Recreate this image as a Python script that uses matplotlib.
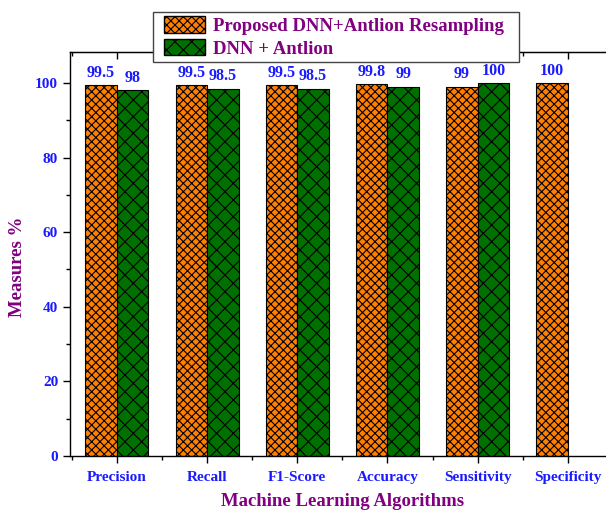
import numpy as np
import matplotlib
matplotlib.use('Agg')
from matplotlib import pyplot as plt
from matplotlib.ticker import MultipleLocator
from matplotlib.patches import Patch, Rectangle
from matplotlib.legend_handler import HandlerPatch

plt.rcParams['font.family'] = 'Liberation Serif'
plt.rcParams['font.weight'] = 'bold'
plt.rcParams['hatch.linewidth'] = 0.8

categories = ['Precision', 'Recall', 'F1-Score', 'Accuracy', 'Sensitivity', 'Specificity']
proposed = [99.5, 99.5, 99.5, 99.8, 99, 100]
dnn_antlion = [98, 98.5, 98.5, 99, 100, None]
proposed_labels = ['99.5', '99.5', '99.5', '99.8', '99', '100']
dnn_labels = ['98', '98.5', '98.5', '99', '100', '']

blue = '#1a1aff'
purple = '#800080'
orange = '#ff8000'
green = '#007000'

fig = plt.figure(figsize=(6.06, 5.15), dpi=100)
ax = fig.add_axes([0.1155, 0.1146, 0.899, 0.7845])

x = np.arange(1, len(categories) + 1)
w = 0.35

for i in range(len(categories)):
    ax.bar(x[i] - w / 2, proposed[i], w, color=orange, edgecolor='black', hatch='xxxx', linewidth=0.8)
    ax.annotate(proposed_labels[i], (x[i] - w / 2, proposed[i]), xytext=(0, 3), textcoords='offset points',
                ha='center', va='bottom', color=blue, fontsize=11.5, fontweight='bold')
    if dnn_antlion[i] is not None:
        ax.bar(x[i] + w / 2, dnn_antlion[i], w, color=green, edgecolor='black', hatch='xx', linewidth=0.8)
        ax.annotate(dnn_labels[i], (x[i] + w / 2, dnn_antlion[i]), xytext=(0, 3), textcoords='offset points',
                    ha='center', va='bottom', color=blue, fontsize=11.5, fontweight='bold')

ax.set_xlim(0.48, 6.52)
ax.set_ylim(0, 108.3)
ax.set_xticks(x)
ax.set_xticklabels(categories, color=blue, fontsize=11, fontweight='bold')
ax.xaxis.set_minor_locator(MultipleLocator(0.5))
ax.set_yticks(np.arange(0, 101, 20))
ax.yaxis.set_minor_locator(MultipleLocator(10))
for lab in ax.get_yticklabels():
    lab.set_color(blue)
    lab.set_fontsize(11)
    lab.set_fontweight('bold')

ax.tick_params(axis='both', which='major', length=5, width=1, direction='out')
ax.tick_params(axis='both', which='minor', length=3, width=1, direction='out')
ax.tick_params(axis='x', which='major', pad=6)
for spine in ax.spines.values():
    spine.set_linewidth(1.0)

# top and right axes: ticks pointing inward, no labels
top = ax.secondary_xaxis('top')
top.set_xticks(x)
top.xaxis.set_minor_locator(MultipleLocator(0.5))
top.tick_params(which='major', direction='in', length=5, width=1, labeltop=False)
top.tick_params(which='minor', direction='in', length=3, width=1)
right = ax.secondary_yaxis('right')
right.set_yticks(np.arange(0, 101, 20))
right.yaxis.set_minor_locator(MultipleLocator(10))
right.tick_params(which='major', direction='in', length=5, width=1, labelright=False)
right.tick_params(which='minor', direction='in', length=3, width=1)

ax.set_ylabel('Measures %', color=purple, fontsize=13.5, fontweight='bold')
ax.yaxis.set_label_coords(-0.081, 0.468)
ax.set_xlabel('Machine Learning Algorithms', color=purple, fontsize=13.5, fontweight='bold', labelpad=6.5)


def shifted_patch(legend, orig_handle, xdescent, ydescent, width, height, fontsize):
    off = 5
    return Rectangle((-xdescent + off, -ydescent), width - off, height)


handles = [Patch(facecolor=orange, edgecolor='black', hatch='xxxx', label='Proposed DNN+Antlion Resampling'),
           Patch(facecolor=green, edgecolor='black', hatch='xx', label='DNN + Antlion')]
leg = fig.legend(handles=handles, loc='upper left', bbox_to_anchor=(153 / 606, 1 - 12 / 515, 366 / 606, 0),
                 mode='expand', frameon=True, fancybox=False, edgecolor='#444444', framealpha=1,
                 handlelength=2.56, handleheight=1.0, handletextpad=0.4, labelspacing=0.2, borderpad=0.22,
                 borderaxespad=0, handler_map={Patch: HandlerPatch(patch_func=shifted_patch)},
                 prop={'family': 'Liberation Serif', 'weight': 'bold', 'size': 13.5})
for t in leg.get_texts():
    t.set_color(purple)
leg.set_zorder(10)

fig.savefig('out.png', dpi=100)
